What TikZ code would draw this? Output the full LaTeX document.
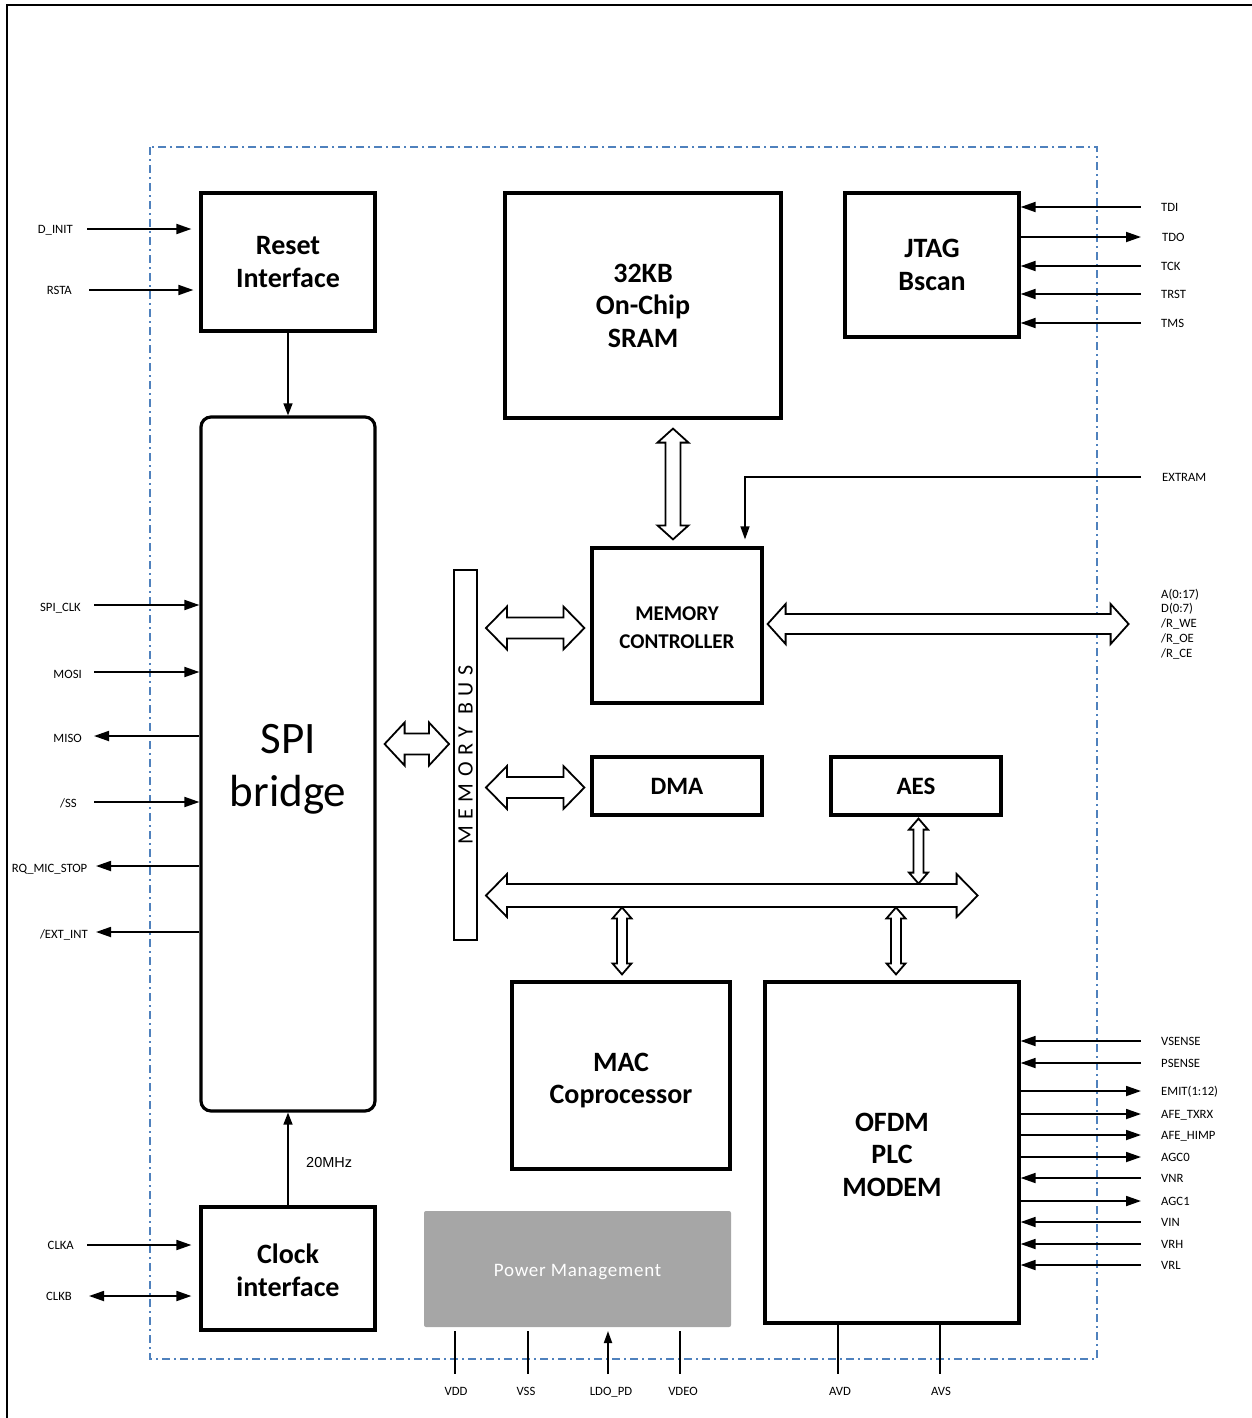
\documentclass[tikz,border=0pt]{standalone}
\usepackage{fontspec}
\setmainfont{Carlito}
\newfontfamily\arialf{Liberation Sans}
\newfontfamily\busfont[LetterSpace=30]{Carlito}
\newfontfamily\pmfont[LetterSpace=4]{Carlito}
\usetikzlibrary{arrows.meta,calc}
\definecolor{dashblue}{RGB}{79,129,189}
\definecolor{pmgrey}{RGB}{166,166,166}
\newcommand{\hblock}[5]{\draw[blk] (#1) -- ++(#5,-#4) -- ++(0,{#4-#3}) -- ($(#2)+(-#5,-#3)$) -- ++(0,{#3-#4}) -- (#2) -- ++(-#5,#4) -- ++(0,{#3-#4}) -- ($(#1)+(#5,#3)$) -- ++(0,{#4-#3}) -- cycle;}
\newcommand{\vblock}[5]{\draw[blk] (#1) -- ++(#4,#5) -- ++({#3-#4},0) -- ($(#2)+(#3,-#5)$) -- ++({#4-#3},0) -- (#2) -- ++(-#4,-#5) -- ++({#4-#3},0) -- ($(#1)+(-#3,#5)$) -- ++({#3-#4},0) -- cycle;}
\begin{document}
\begin{tikzpicture}[x=1pt,y=-1pt,
  box/.style={draw,fill=white,line width=3.2pt,rectangle,inner sep=0pt,align=center,font=\fontsize{28}{32.5}\selectfont\bfseries},
  boxtext/.style={inner sep=0pt,align=center,font=\fontsize{28}{32.5}\selectfont\bfseries},
  lbl/.style={inner sep=0pt,font=\fontsize{12.7}{14}\selectfont,text height=8.2pt,text depth=0pt},
  sig/.style={line width=1.8pt,>={Triangle[length=15pt,width=10pt]}},
  vsig/.style={line width=1.5pt,>={Triangle[length=12pt,width=9pt]}},
  blk/.style={draw,fill=white,line width=1.8pt,line join=miter},
  pinline/.style={line width=1.8pt,>={Triangle[length=12pt,width=8pt]}}]
\useasboundingbox (0,0) rectangle (1252,1418);
% outer frame
\draw[line width=2pt] (7,1418) -- (7,5) -- (1252,5);
% chip boundary
\draw[dashblue,line width=1.5pt,dash pattern=on 8pt off 4pt on 2pt off 4pt] (150,147) rectangle (1097,1359);

% blocks
\node[box,minimum width=174pt,minimum height=138pt] (reset) at (288,262) {Reset\\Interface};
\node[box,rounded corners=10pt,minimum width=174pt,minimum height=694pt] (spi) at (288,764) {};
\node[boxtext,font=\fontsize{45}{53}\selectfont] (spitext) at ($(spi.center)+(0,5)$) {SPI\\bridge};
\node[box,minimum width=174pt,minimum height=123pt] (clock) at (288,1268.5) {};
\node[boxtext] (clocktext) at ($(clock.center)+(0,2)$) {Clock\\interface};
\node[box,minimum width=276pt,minimum height=225pt] (sram) at (643,305.5) {32KB\\On-Chip\\SRAM};
\node[box,minimum width=174pt,minimum height=144pt] (jtag) at (932,265) {JTAG\\Bscan};
\node[box,minimum width=170pt,minimum height=155pt] (mc) at (677,625.5) {};
\node[boxtext,font=\fontsize{21}{28}\selectfont\bfseries] (mctext) at ($(mc.center)+(0,2)$) {MEMORY\\CONTROLLER};
\node[draw,fill=white,line width=2pt,inner sep=0pt,minimum width=23pt,minimum height=370pt] (bus) at (465.5,755) {};
\node[rotate=90,inner sep=0pt,font=\busfont\fontsize{22}{22}\selectfont] (bustext) at ($(bus.center)+(0,0)$) {MEMORY\hspace{12pt}BUS};
\node[box,minimum width=170pt,minimum height=58pt,font=\fontsize{25}{30}\selectfont\bfseries] (dma) at (677,786) {DMA};
\node[box,minimum width=170pt,minimum height=58pt,font=\fontsize{25}{30}\selectfont\bfseries] (aes) at (916,786) {AES};
\node[box,minimum width=218pt,minimum height=187pt] (mac) at (621,1075.5) {};
\node[boxtext] (mactext) at ($(mac.center)+(0,5)$) {MAC\\Coprocessor};
\node[box,minimum width=254pt,minimum height=341pt] (ofdm) at (892,1152.5) {};
\node[boxtext] (ofdmtext) at ($(ofdm.center)+(0,2)$) {OFDM\\PLC\\MODEM};
\node[fill=pmgrey,rounded corners=2pt,inner sep=0pt,minimum width=307pt,minimum height=116pt] (pm) at (577.5,1269) {};
\node[inner sep=0pt,text=white,font=\pmfont\fontsize{19}{22}\selectfont] (pmtext) at ($(pm.center)+(0,3)$) {Power Management};

% internal connections
\draw[vsig,->] (reset.south) -- (spi.north);
\draw[vsig,->] (clock.north) -- (spi.south);
\node[inner sep=0pt,anchor=west,font=\arialf\fontsize{14.5}{16}\selectfont] (mhz) at (306,1162) {20MHz};

% block arrows
\vblock{$(sram.south)+(30,9)$}{$(mc.north)+(-4,-7)$}{7.5}{15.5}{14}
\hblock{$(mc.east)+(4,-1.5)$}{$(mc.east)+(365,-1.5)$}{10}{20}{18}
\hblock{$(bus.east |- mc.west)+(8,2.5)$}{$(mc.west)+(-6,2.5)$}{10.5}{21.5}{21}
\hblock{$(bus.east |- dma.west)+(8,1.5)$}{$(dma.west)+(-6,1.5)$}{10.5}{21.5}{21}
\hblock{$(spi.east)+(8,-20)$}{$(bus.west |- spi.east)+(-4,-20)$}{10.5}{21.5}{20}
\hblock{$(bus.east)+(8,140.5)$}{$(aes.east)+(-25,109.5)$}{11.5}{21.5}{21}
\vblock{$(aes.south)+(2.5,2)$}{$(aes.south)+(2.5,67)$}{5}{9.5}{11}
\vblock{$(mac.north)+(1,-73)$}{$(mac.north)+(1,-6)$}{5}{9.5}{11}
\vblock{$(ofdm.north)+(4,-73)$}{$(ofdm.north)+(4,-6)$}{5}{9.5}{11}

% EXTRAM
\node[lbl,anchor=west] (extram) at (1162,477) {EXTRAM};
\draw[line width=1.3pt,-{Triangle[length=13pt,width=9pt]}] ($(extram.west)+(-21,0)$) -| ($(mc.north)+(68,-7)$);

% external bus labels
\foreach \t [count=\i from 0] in {A(0:17),D(0:7),/R\_WE,/R\_OE,/R\_CE}
  \node[lbl,anchor=west] (eb\i) at (1161,{594+14.8*\i}) {\t};

% reset pins
\node[lbl,anchor=east] (dinit) at (73,229) {D\_INIT};
\draw[sig,->] ($(dinit.east)+(14,0)$) -- ($(reset.west |- dinit.east)+(-8,0)$);
\node[lbl,anchor=east] (rsta) at (72,290) {RSTA};
\draw[sig,->] ($(rsta.east)+(17,0)$) -- ($(reset.west |- rsta.east)+(-6,0)$);

% SPI pins
\node[lbl,anchor=east] (spiclk) at (81,607) {SPI\_CLK};
\draw[sig,->] (94,605) -- (spi.west |- 0,605);
\node[lbl,anchor=east] (mosi) at (82,674) {MOSI};
\draw[sig,->] (94,672) -- (spi.west |- 0,672);
\node[lbl,anchor=east] (miso) at (82,738) {MISO};
\draw[sig,<-] (94,736) -- (spi.west |- 0,736);
\node[lbl,anchor=east] (ss) at (77,803) {/SS};
\draw[sig,->] (94,802) -- (spi.west |- 0,802);
\node[lbl,anchor=east] (rq) at (87.5,868) {RQ\_MIC\_STOP};
\draw[sig,<-] (96,866) -- (spi.west |- 0,866);
\node[lbl,anchor=east] (extint) at (88,934) {/EXT\_INT};
\draw[sig,<-] (96,932) -- (spi.west |- 0,932);

% clock pins
\node[lbl,anchor=east] (clka) at (74,1245) {CLKA};
\draw[sig,->] ($(clka.east)+(13,0)$) -- ($(clock.west |- clka.east)+(-8,0)$);
\node[lbl,anchor=east] (clkb) at (72,1296) {CLKB};
\draw[sig,<->] ($(clkb.east)+(17,0)$) -- ($(clock.west |- clkb.east)+(-8,0)$);

% JTAG pins
\foreach \y/\t [count=\i] in {207/TDI,266/TCK,294/TRST,323/TMS} {
  \node[lbl,anchor=west] (jt\i) at (1161,\y) {\t};
  \draw[sig,<-] (jtag.east |- jt\i.west) -- ($(jt\i.west)+(-20,0)$);
}
\node[lbl,anchor=west] (tdo) at (1162,237) {TDO};
\draw[sig,->] (jtag.east |- tdo.west) -- ($(tdo.west)+(-21,0)$);

% OFDM pins
\foreach \y/\t [count=\i] in {1041/VSENSE,1063/PSENSE,1178/VNR,1222/VIN,1244/VRH,1265/VRL} {
  \node[lbl,anchor=west] (oi\i) at (1161,\y) {\t};
  \draw[sig,<-] (ofdm.east |- oi\i.west) -- ($(oi\i.west)+(-20,0)$);
}
\foreach \y/\t [count=\i] in {1091/EMIT(1:12),1114/AFE\_TXRX,1135/AFE\_HIMP,1157/AGC0,1201/AGC1} {
  \node[lbl,anchor=west] (oo\i) at (1161,\y) {\t};
  \draw[sig,->] (ofdm.east |- oo\i.west) -- ($(oo\i.west)+(-20,0)$);
}

% bottom pins
\node[lbl] (vdd) at (456,1391) {VDD};
\draw[pinline] (455,1331) -- (455,1374);
\node[lbl] (vss) at (526,1391) {VSS};
\draw[pinline] (528,1331) -- (528,1374);
\node[lbl] (ldo) at (611,1391) {LDO\_PD};
\draw[pinline,->] (608,1374) -- (608,1331);
\node[lbl] (vdeo) at (683,1391) {VDEO};
\draw[pinline] (680,1331) -- (680,1374);
\node[lbl] (avd) at (840,1391) {AVD};
\draw[pinline] (ofdm.south -| 838,0) -- (838,1374);
\node[lbl] (avs) at (941,1391) {AVS};
\draw[pinline] (ofdm.south -| 940,0) -- (940,1374);
\end{tikzpicture}
\end{document}
